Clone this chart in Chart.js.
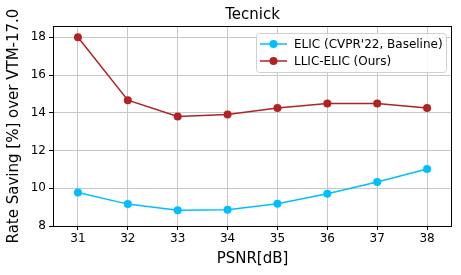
<!DOCTYPE html>
<html>
<head>
<meta charset="utf-8">
<script src="https://cdn.jsdelivr.net/npm/chart.js@4/dist/chart.umd.min.js"></script>
<style>
  html, body { margin: 0; padding: 0; background: #fff; }
  #wrap { width: 461px; height: 275px; }
</style>
</head>
<body>
<div id="wrap"><canvas id="chart" width="461" height="275"></canvas></div>
<script>
// values
const psnr = [31, 32, 33, 34, 35, 36, 37, 38];
const elicSaving = [9.78, 9.16, 8.83, 8.86, 9.18, 9.71, 10.33, 11.02];
const llicSaving = [18.0, 14.67, 13.8, 13.91, 14.26, 14.49, 14.49, 14.26];
const seriesLabels = ['ELIC (CVPR\'22, Baseline)', 'LLIC-ELIC (Ours)'];
const xTicks = [31, 32, 33, 34, 35, 36, 37, 38];
const yTicks = [8, 10, 12, 14, 16, 18];

const FONT = '"DejaVu Sans", sans-serif';

function toPoints(ys) {
  return psnr.map((x, i) => ({x: x, y: ys[i]}));
}

// title, frame and legend drawn by hand (matplotlib look)
const decorations = {
  id: 'decorations',
  afterDraw(chart) {
    const {ctx, chartArea: a} = chart;
    ctx.save();
    // title centred over the plot area
    ctx.fillStyle = '#000';
    ctx.font = '15px ' + FONT;
    ctx.textAlign = 'center';
    ctx.textBaseline = 'alphabetic';
    ctx.fillText('Tecnick', (a.left + a.right) / 2, 19);

    // legend box
    const bx = 256, by = 33, bw = 190, bh = 39;
    ctx.beginPath();
    ctx.roundRect(bx + 0.5, by + 0.5, bw, bh, 3);
    ctx.fillStyle = 'rgba(255,255,255,0.85)';
    ctx.fill();
    ctx.strokeStyle = '#d0d0d0';
    ctx.lineWidth = 1;
    ctx.stroke();
    ctx.font = '12px ' + FONT;
    ctx.textAlign = 'left';
    ctx.textBaseline = 'middle';
    chart.data.datasets.forEach((ds, i) => {
      const yy = by + 11 + i * 17;
      ctx.strokeStyle = ds.borderColor;
      ctx.lineWidth = 1.5;
      ctx.beginPath();
      ctx.moveTo(bx + 4, yy);
      ctx.lineTo(bx + 31, yy);
      ctx.stroke();
      ctx.fillStyle = ds.backgroundColor;
      ctx.beginPath();
      ctx.arc(bx + 17.5, yy, 4, 0, Math.PI * 2);
      ctx.fill();
      ctx.fillStyle = '#000';
      ctx.fillText(ds.label, bx + 38, yy + 1);
    });

    // black frame round the axes
    ctx.strokeStyle = '#000';
    ctx.lineWidth = 1;
    ctx.strokeRect(Math.round(a.left) + 0.5, Math.round(a.top) + 0.5,
      Math.round(a.right - a.left) - 1, Math.round(a.bottom - a.top));
    ctx.restore();
  }
};

new Chart(document.getElementById('chart'), {
  type: 'line',
  data: {
    datasets: [{
      label: seriesLabels[0],
      data: toPoints(elicSaving),
      borderColor: '#00bfff',
      backgroundColor: '#00bfff',
      borderWidth: 1.5,
      pointRadius: 4,
      pointBorderWidth: 0,
      tension: 0
    }, {
      label: seriesLabels[1],
      data: toPoints(llicSaving),
      borderColor: '#b22222',
      backgroundColor: '#b22222',
      borderWidth: 1.5,
      pointRadius: 4,
      pointBorderWidth: 0,
      tension: 0
    }]
  },
  options: {
    responsive: false,
    animation: false,
    layout: {padding: {top: 26, right: 9, left: 5, bottom: 7}},
    plugins: {
      legend: {display: false},
      title: {display: false},
      tooltip: {enabled: false}
    },
    scales: {
      x: {
        type: 'linear',
        min: 30.5,
        max: 38.5,
        afterBuildTicks: s => { s.ticks = xTicks.map(v => ({value: v})); },
        afterFit: s => { s.height = 42; },
        grid: {color: '#c8c8c8', lineWidth: 1, tickLength: 4, tickColor: '#000'},
        border: {display: false},
        ticks: {color: '#000', font: {family: FONT, size: 12}, padding: 2, maxRotation: 0},
        title: {display: true, text: 'PSNR[dB]', color: '#000',
          font: {family: FONT, size: 15}, padding: {top: 0, bottom: 0}}
      },
      y: {
        min: 8,
        max: 18.6,
        afterBuildTicks: s => { s.ticks = yTicks.map(v => ({value: v})); },
        afterFit: s => { s.width = 48; },
        grid: {color: '#c8c8c8', lineWidth: 1, tickLength: 4, tickColor: '#000'},
        border: {display: false},
        ticks: {color: '#000', font: {family: FONT, size: 12}, padding: 3},
        title: {display: true, text: 'Rate Saving [%] over VTM-17.0', color: '#000',
          font: {family: FONT, size: 15}, padding: {top: 0, bottom: 2}}
      }
    }
  },
  plugins: [decorations]
});
</script>
</body>
</html>
